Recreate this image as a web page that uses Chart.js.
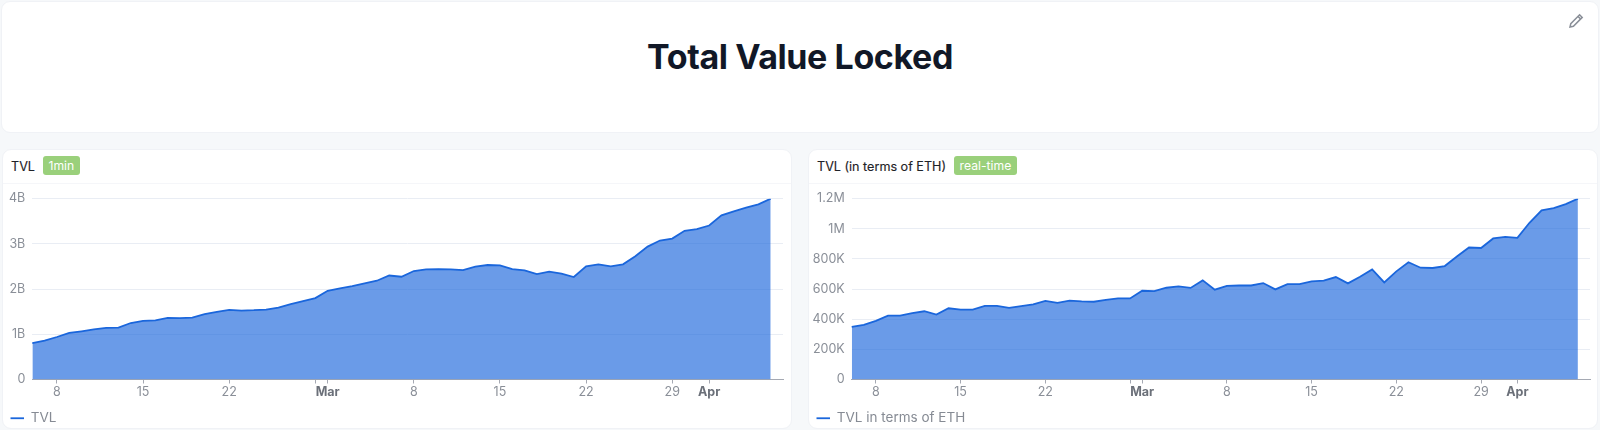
<!DOCTYPE html>
<html><head><meta charset="utf-8">
<script src="https://cdn.jsdelivr.net/npm/chart.js@4"></script>
<style>
html,body{margin:0;padding:0;width:1600px;height:430px;overflow:hidden;background:#f6f8fa;font-family:Inter,Roboto,sans-serif}
.card{position:absolute;background:#fff;border:1px solid #f0f2f6;box-sizing:border-box;border-radius:9px}
#top{left:1px;top:1px;width:1598px;height:132px}
#top h1{position:absolute;left:0;right:0;top:34.5px;margin:0;text-align:center;font:700 34px/40px Inter,sans-serif;color:#111827;letter-spacing:-.4px}
#top svg{position:absolute;left:1566px;top:11px}
#c1{left:2px;top:149px;width:790px;height:280px}
#c2{left:808px;top:149px;width:790px;height:280px}
.hd{position:absolute;left:0;right:0;top:0;height:33px;border-bottom:1px solid #f5f6f9;font:400 12.6px/33px Inter,sans-serif;color:#1f2328;padding-left:8px;white-space:nowrap;-webkit-text-stroke:.15px #1f2328}
.bd{display:inline-block;background:#9ad07b;color:#fff;font:400 12.2px/19px Inter,sans-serif;padding:0 5.5px;border-radius:3px;margin-left:8px;vertical-align:1px;-webkit-text-stroke:0}
.cv{position:absolute;left:0;top:34px;width:788px;height:251px}
canvas{display:block}
</style></head><body>
<div class="card" id="top"><h1>Total Value Locked</h1>
<svg width="16" height="16" viewBox="0 0 16 16" fill="none" stroke="#8a8f98" stroke-width="1.5"><path d="M2 14l.8-3.4L11.6 1.8l2.6 2.6-8.8 8.8z"/><path d="M10 3.4l2.6 2.6"/></svg></div>
<div class="card" id="c1"><div class="hd">TVL<span class="bd">1min</span></div><div class="cv"><canvas id="a"></canvas></div></div>
<div class="card" id="c2"><div class="hd">TVL (in terms of ETH)<span class="bd">real-time</span></div><div class="cv"><canvas id="b"></canvas></div></div>
<script>
const categories=["Feb 6","Feb 7","Feb 8","Feb 9","Feb 10","Feb 11","Feb 12","Feb 13","Feb 14","Feb 15","Feb 16","Feb 17","Feb 18","Feb 19","Feb 20","Feb 21","Feb 22","Feb 23","Feb 24","Feb 25","Feb 26","Feb 27","Feb 28","Feb 29",
"Mar 1","Mar 2","Mar 3","Mar 4","Mar 5","Mar 6","Mar 7","Mar 8","Mar 9","Mar 10","Mar 11","Mar 12","Mar 13","Mar 14","Mar 15","Mar 16","Mar 17","Mar 18","Mar 19","Mar 20","Mar 21","Mar 22","Mar 23","Mar 24","Mar 25","Mar 26","Mar 27","Mar 28","Mar 29","Mar 30","Mar 31",
"Apr 1","Apr 2","Apr 3","Apr 4","Apr 5","Apr 6","Apr 7"];
const tvlBillions=[0.807,0.86,0.94,1.03,1.067,1.11,1.14,1.148,1.25,1.296,1.31,1.363,1.356,1.37,1.444,1.496,1.54,1.526,1.533,1.548,1.59,1.667,1.733,1.80,
1.963,2.015,2.067,2.126,2.185,2.30,2.274,2.40,2.437,2.444,2.437,2.422,2.496,2.533,2.526,2.444,2.415,2.333,2.385,2.34,2.267,2.504,2.548,2.504,2.548,2.726,2.94,3.074,3.119,3.289,3.326,
3.407,3.63,3.719,3.8,3.874,4.0];
const tvlEthThousands=[349,362,389,424,424,440,453,431,473,464,464,489,489,476,487,498,522,509,524,518,516,529,538,538,
589,587,609,618,608,658,596,622,624,624,640,598,633,633,651,656,680,638,682,731,644,718,778,742,740,753,816,876,873,936,947,
940,1040,1122,1138,1164,1200];
const tickCategories=["Feb 8","Feb 15","Feb 22","Feb 29","Mar 1","Mar 8","Mar 15","Mar 22","Mar 29","Apr 1"];
const tickLabels=["8","15","22","","Mar","8","15","22","29","Apr"];
const boldTicks=["Mar 1","Apr 1"];
const tvlYTicks=[0,1,2,3,4];
const tvlYLabels=["0","1B","2B","3B","4B"];
const ethYTicks=[0,200,400,600,800,1000,1200];
const ethYLabels=["0","200K","400K","600K","800K","1M","1.2M"];
const FONT="Inter, Roboto, sans-serif";
function make(id,name,values,yTicks,yLabels,yWidth,padRight){
  new Chart(document.getElementById(id),{type:'line',
    data:{labels:categories,datasets:[{label:name,data:values,borderColor:'#1a66dc',borderWidth:1.8,backgroundColor:'rgba(26,102,220,0.65)',fill:'origin',pointRadius:0,tension:0}]},
    options:{responsive:false,animation:false,
      layout:{padding:{left:3,right:padRight,top:14.7,bottom:0}},
      plugins:{tooltip:{enabled:false},
        legend:{position:'bottom',align:'start',labels:{usePointStyle:true,pointStyle:'line',pointStyleWidth:13.5,boxHeight:13,padding:4.5,color:'#868b94',font:{family:FONT,size:13.5}}}},
      scales:{
        x:{type:'category',offset:false,
          afterBuildTicks(s){s.ticks=tickCategories.map(c=>({value:categories.indexOf(c)}));},
          afterFit(s){s.height=27.5;},
          border:{color:'#a5a9b3'},
          grid:{drawOnChartArea:false,drawTicks:true,tickLength:4,tickColor:'#a5a9b3'},
          ticks:{autoSkip:false,maxRotation:0,padding:1,color:ctx=>boldTicks.includes(categories[ctx.tick.value])?'#6b7079':'#8a8f98',
            font:ctx=>({family:FONT,size:12.5,weight:boldTicks.includes(categories[ctx.tick.value])?'700':'400'}),
            callback(v){return tickLabels[tickCategories.indexOf(categories[v])];}}},
        y:{min:0,max:yTicks[yTicks.length-1],
          afterBuildTicks(s){s.ticks=yTicks.map(v=>({value:v}));},
          afterFit(s){s.width=yWidth;},
          border:{display:false},
          grid:{color:'#e9edf4',drawTicks:false,lineWidth:1},
          ticks:{padding:7,color:'#8a8f98',font:{family:FONT,size:12.5},callback(v){return yLabels[yTicks.indexOf(v)];}}}
      }}});
}
function size(id){const c=document.getElementById(id);c.width=788;c.height=251;c.style.width='788px';c.style.height='251px';}
size('a');size('b');
make('a','TVL',tvlBillions,tvlYTicks,tvlYLabels,26.3,8);
make('b','TVL in terms of ETH',tvlEthThousands,ethYTicks,ethYLabels,39.7,7);
</script>
</body></html>
